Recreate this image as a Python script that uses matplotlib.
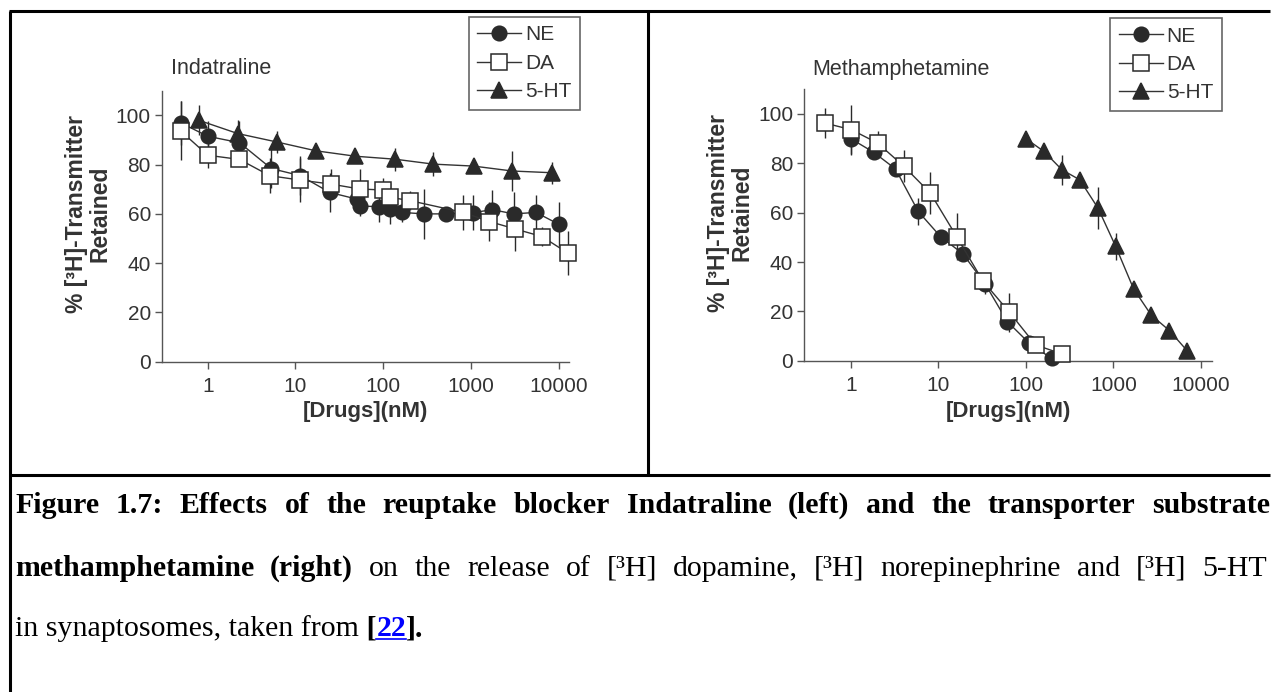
import numpy as np
import matplotlib.pyplot as plt
from matplotlib.lines import Line2D
from matplotlib.ticker import NullLocator

# Indatraline (nM, % retained, SEM)
ind_ne_x = [0.49, 1.0, 2.3, 5.3, 11.4, 24.6, 50, 55, 90, 121, 162, 291, 519, 1050, 1750, 3090, 5500, 10000]
ind_ne_y = [97.0, 91.5, 88.9, 78.4, 75.5, 68.7, 66.0, 63.2, 62.9, 61.9, 60.6, 60.0, 60.0, 60.5, 61.7, 60.0, 60.6, 55.8]
ind_ne_err = [9, 6, 9, 8, 8, 8, 4, 4, 6, 6, 4, 10, 1, 7, 8, 9, 7, 9]

ind_da_x = [0.49, 1.0, 2.3, 5.1, 11.4, 25.3, 54, 100, 121, 201, 815, 1620, 3180, 6450, 12700]
ind_da_y = [93.7, 83.8, 82.1, 75.5, 73.7, 72.1, 70.1, 69.7, 66.7, 65.4, 60.6, 56.9, 53.9, 50.8, 44.1]
ind_da_err = [12, 5, 2, 7, 9, 6, 8, 5, 6, 4, 7, 8, 9, 4, 9]

ind_ht_x = [0.79, 2.2, 6.1, 17.1, 48.3, 136, 372, 1070, 2960, 8400]
ind_ht_y = [98.0, 92.6, 89.2, 85.6, 83.4, 82.2, 80.2, 79.4, 77.4, 76.7]
ind_ht_err = [6, 5.4, 4.5, 1, 1, 4.6, 5, 2, 8, 4.5]

# Methamphetamine
meth_ne_x = [1.0, 1.84, 3.25, 5.9, 10.6, 19.1, 34.3, 61.6, 110, 197]
meth_ne_y = [90.0, 84.4, 77.7, 60.5, 50.3, 43.3, 31.1, 15.8, 7.0, 0.9]
meth_ne_err = [6.5, 2, 2, 5.5, 2, 2, 4, 3, 1, 1]

meth_da_x = [0.51, 1.02, 2.03, 4.04, 8.13, 16.2, 32.3, 65, 129, 260]
meth_da_y = [96.3, 93.6, 88.2, 78.8, 67.9, 50.3, 32.3, 19.6, 6.4, 2.7]
meth_da_err = [6, 10, 5, 6.5, 8.5, 9.5, 3, 8, 1, 1]

meth_ht_x = [100, 161, 258, 413, 668, 1062, 1700, 2700, 4360, 6920]
meth_ht_y = [90.0, 84.8, 77.4, 73.3, 61.8, 46.3, 29.1, 18.5, 12.2, 4.1]
meth_ht_err = [1, 1, 6, 1, 8.6, 5.4, 1, 1, 1, 1]

labels = ["NE", "DA", "5-HT"]
xticks = [1, 10, 100, 1000, 10000]

W, H = 1274, 692
fig = plt.figure(figsize=(W / 100, H / 100), dpi=100)
sans = "Liberation Sans"
serif = "Liberation Serif"
dark = "#2a2a2a"
grey = "#333333"


def px_rect(x0, y0, x1, y1):
    return [x0 / W, 1 - y1 / H, (x1 - x0) / W, (y1 - y0) / H]


def panel(ax, data, xlim, title, title_x, leg_xy):
    # marker, face colour, size for NE / DA / 5-HT
    styles = [("o", dark, 10.5), ("s", "white", 11), ("^", dark, 11)]
    handles = [None] * 3
    for k in [0, 2, 1]:  # DA squares end up on top
        x, y, e = data[k]
        m, fc, ms = styles[k]
        ax.errorbar(x, y, yerr=e, fmt="none", ecolor=dark, elinewidth=1, capsize=0, zorder=2, clip_on=False)
        ln, = ax.plot(x, y, color=grey, lw=1, marker=m, ms=ms, mfc=fc, mec=dark, mew=1.1,
                      label=labels[k], zorder=3, clip_on=False)
        handles[k] = ln

    ax.set_xscale("log")
    ax.set_xlim(*xlim)
    ax.set_ylim(0, 110)
    ax.set_xticks(xticks)
    ax.set_xticklabels([str(t) for t in xticks])
    ax.xaxis.set_minor_locator(NullLocator())
    ax.set_yticks([0, 20, 40, 60, 80, 100])
    for s in ["top", "right"]:
        ax.spines[s].set_visible(False)
    for s in ["left", "bottom"]:
        ax.spines[s].set_color("#555555")
        ax.spines[s].set_linewidth(1)
    ax.tick_params(direction="out", length=5, width=1, color="#555555", labelcolor=grey,
                   labelsize=15, pad=3)
    for lab in ax.get_xticklabels() + ax.get_yticklabels():
        lab.set_family(sans)
    ax.xaxis.set_tick_params(pad=6)

    ax.set_ylabel("% [³H]-Transmitter\nRetained", fontsize=16.5, fontweight="bold",
                  family=sans, color=grey, linespacing=1.0)
    ax.yaxis.set_label_coords(-0.125, 0.545)

    bb = ax.get_position()
    fig.text((bb.x0 + bb.x1) / 2, 1 - 412 / H, "[Drugs](nM)", ha="center", va="center",
             fontsize=16, fontweight="bold", family=sans, color=grey)
    fig.text(title_x / W, 1 - 69 / H, title, ha="left", va="center", fontsize=15.5,
             family=sans, color=grey)

    leg = ax.legend(handles=handles, loc="upper left", bbox_to_anchor=(leg_xy[0] / W, 1 - leg_xy[1] / H),
                    bbox_transform=fig.transFigure, borderaxespad=0, frameon=True, fancybox=False,
                    edgecolor="#666666", framealpha=1, handlelength=2.1, handletextpad=0.2,
                    borderpad=0.42, labelspacing=0.45, prop={"family": sans, "size": 15})
    leg.get_frame().set_linewidth(1.2)
    for t in leg.get_texts():
        t.set_color(grey)


ax1 = fig.add_axes(px_rect(162, 90.7, 569.3, 361.7))
panel(ax1, [(ind_ne_x, ind_ne_y, ind_ne_err), (ind_da_x, ind_da_y, ind_da_err),
            (ind_ht_x, ind_ht_y, ind_ht_err)],
      (0.301, 13210), "Indatraline", 171, (468.6, 16.7))

ax2 = fig.add_axes(px_rect(804.3, 89.3, 1211.7, 360.7))
panel(ax2, [(meth_ne_x, meth_ne_y, meth_ne_err), (meth_da_x, meth_da_y, meth_da_err),
            (meth_ht_x, meth_ht_y, meth_ht_err)],
      (0.295, 13250), "Methamphetamine", 812, (1110, 18))

# table rules around the two panels and the caption
for (x0, y0, x1, y1) in [(9, 11, 1270, 11), (10, 11, 10, 692), (647.7, 11, 647.7, 475),
                         (9, 475, 1270, 475)]:
    fig.add_artist(Line2D([x0 / W, x1 / W], [1 - y0 / H, 1 - y1 / H], transform=fig.transFigure,
                          color="black", lw=2.2, solid_capstyle="butt"))

# caption: justified first two lines, ragged last line
renderer = fig.canvas.get_renderer()
cap_fs = 21.5
bold = {"fontweight": "bold"}
cap1 = [("Figure 1.7: Effects of the reuptake blocker Indatraline (left) and the transporter substrate", bold)]
cap2 = [("methamphetamine (right)", bold),
        ("on the release of [³H] dopamine, [³H] norepinephrine and [³H] 5-HT", {})]
cap3 = [("in synaptosomes, taken from", {}), (" [", bold),
        ("22", {"fontweight": "bold", "color": "blue"}), ("].", bold)]


def width(s, kw):
    t = fig.text(0, 0, s, fontsize=cap_fs, family=serif, **kw)
    w = t.get_window_extent(renderer).width
    t.remove()
    return w


def justified(items, x0, x1, y):
    words = [(w, kw) for s, kw in items for w in s.split(" ")]
    ws = [width(w, kw) for w, kw in words]
    gap = (x1 - x0 - sum(ws)) / (len(words) - 1)
    x = x0
    for (w, kw), wd in zip(words, ws):
        fig.text(x / W, 1 - y / H, w, fontsize=cap_fs, family=serif, va="baseline", **kw)
        x += wd + gap


def ragged(items, x, y):
    for s, kw in items:
        t = fig.text(x / W, 1 - y / H, s, fontsize=cap_fs, family=serif, va="baseline", **kw)
        bb = t.get_window_extent(renderer)
        if kw.get("color") == "blue":
            fig.add_artist(Line2D([bb.x0 / W, bb.x1 / W], [(H - y - 3) / H] * 2,
                                  transform=fig.transFigure, color="blue", lw=1.2))
        x += bb.width


justified(cap1, 15, 1270, 513)
justified(cap2, 15, 1267, 576)
ragged(cap3, 15, 636)

fig.savefig("out.png", dpi=100)
